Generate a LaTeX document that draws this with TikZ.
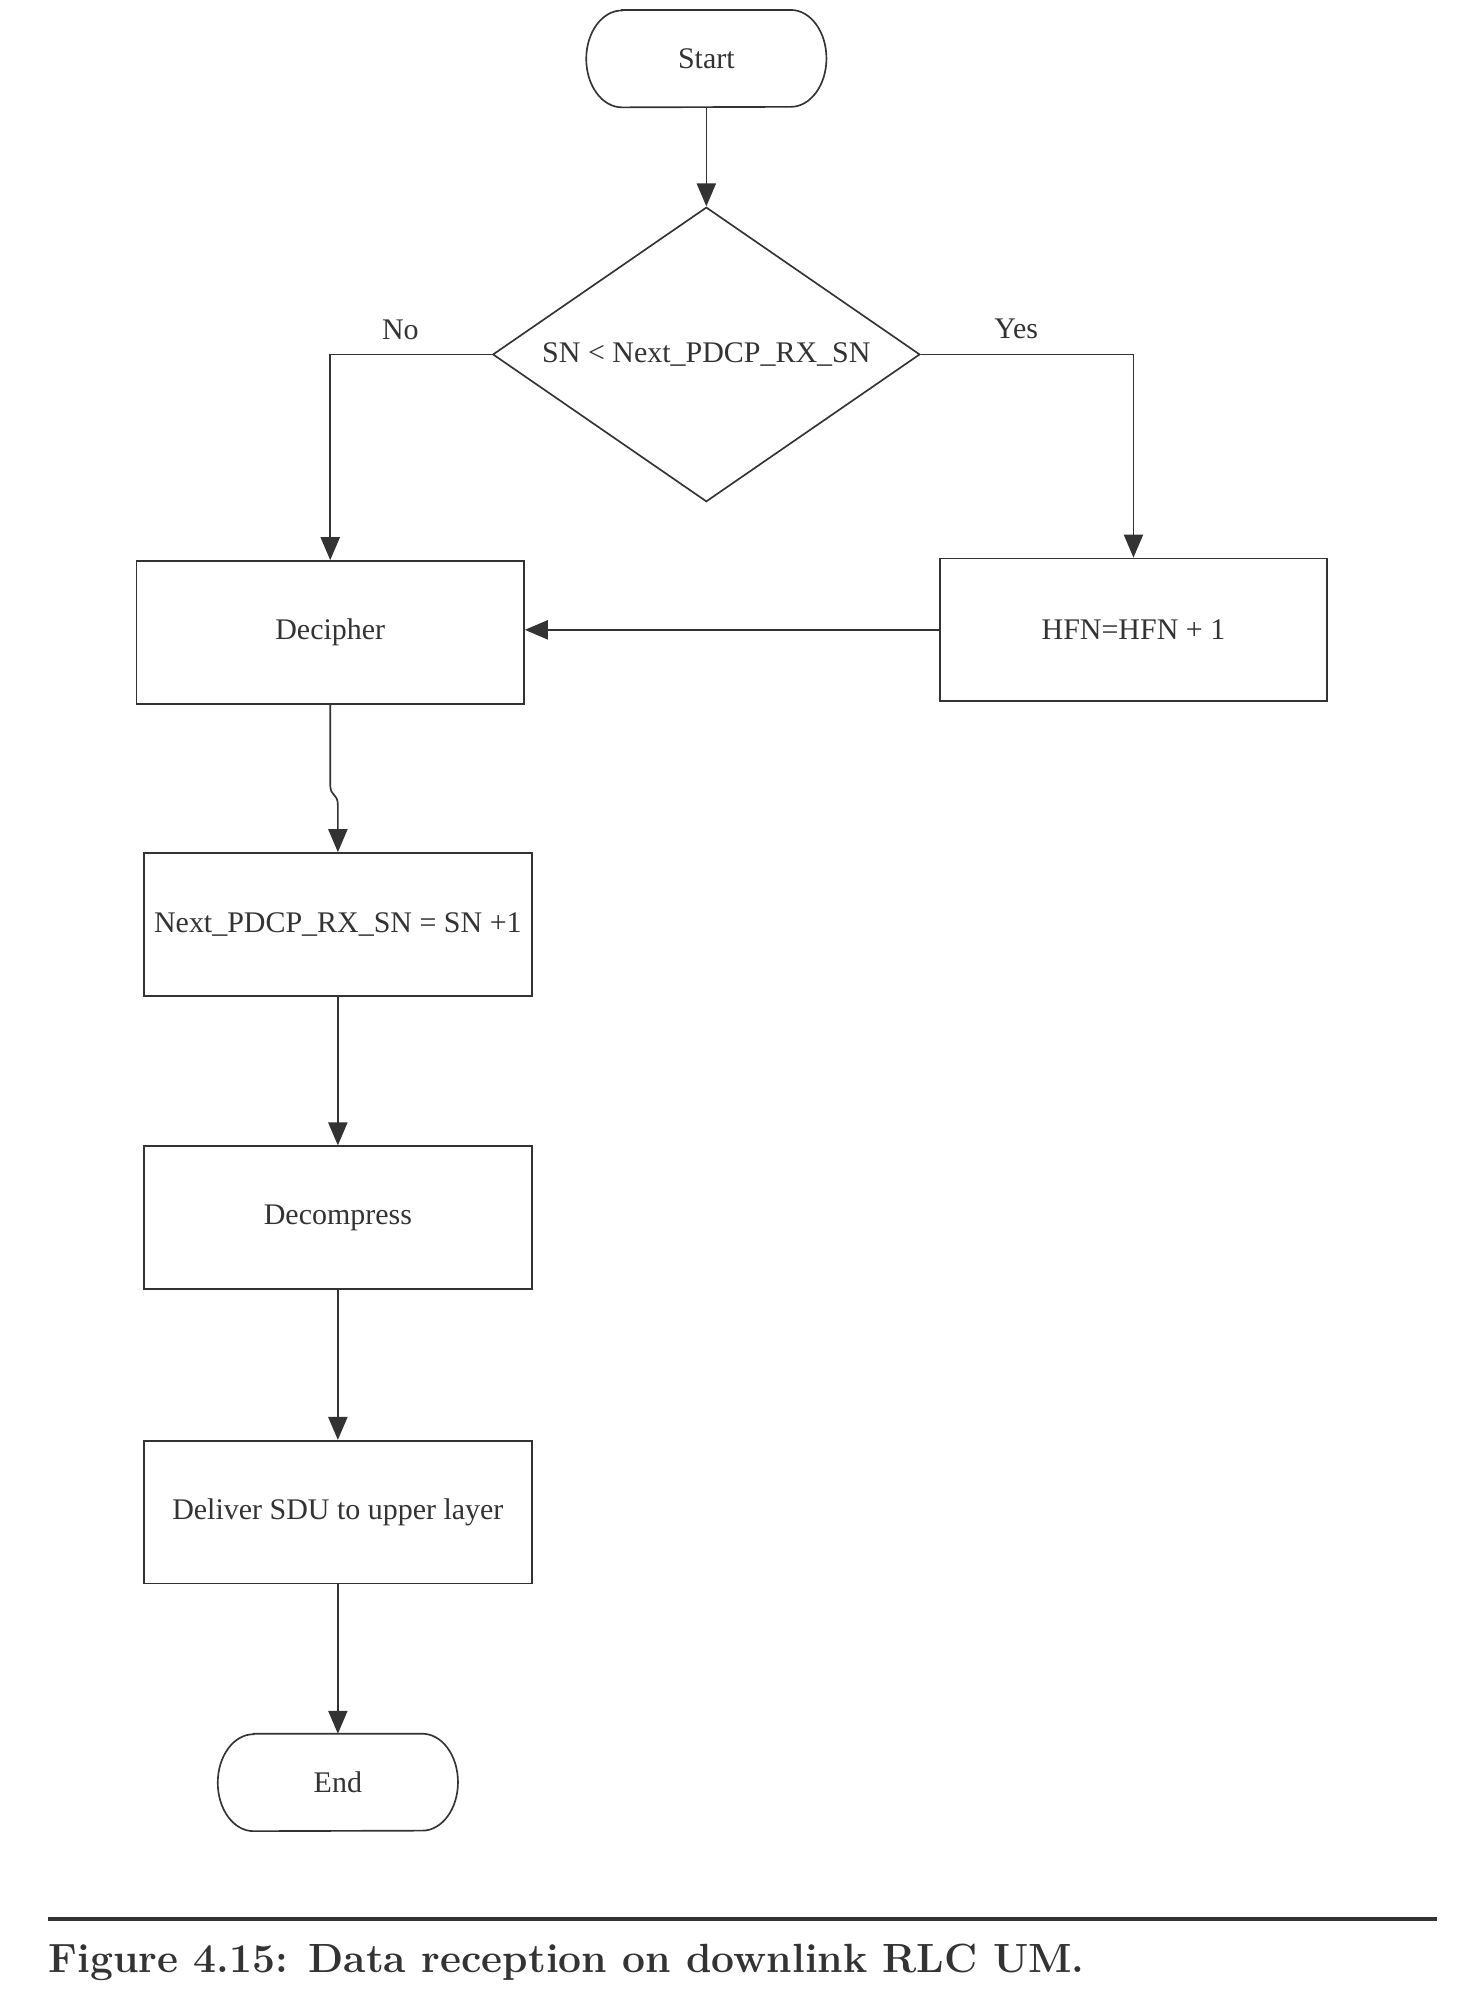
\documentclass[tikz,border=0pt]{standalone}
\usepackage{fontspec}
\setmainfont{Liberation Serif}
\newfontfamily\capfont{Latin Modern Roman}
\usetikzlibrary{shapes.geometric,arrows.meta}
\definecolor{ink}{HTML}{333333}
\begin{document}
\begin{tikzpicture}[x=1pt,y=-1pt,
  line/.style={draw=ink,line width=1.3pt},
  arr/.style={line,-{Triangle[length=18pt,width=15pt]}},
  txt/.style={text=ink,font=\fontsize{23.5}{28}\selectfont},
  box/.style={txt,draw=ink,line width=1.3pt,rectangle,minimum width=304pt,minimum height=112pt,inner sep=0pt},
  term/.style={txt,minimum width=188pt,minimum height=76pt,inner sep=0pt},
  decision/.style={txt,diamond,draw=ink,line width=1.3pt,minimum width=335pt,minimum height=231pt,inner sep=0pt,aspect=1.45},
  lbl/.style={txt}]
\useasboundingbox (0,0) rectangle (1146,1571);
% nodes
\node[term] (start) at (554,46) {Start};
\node[decision] (dec) at (554,278) {SN < Next\_PDCP\_RX\_SN};
\node[box] (decipher) at (259,496) {Decipher};
\node[box] (hfn) at (889,494) {HFN=HFN + 1};
\node[box] (nextsn) at (265,725) {Next\_PDCP\_RX\_SN = SN +1};
\node[box] (decomp) at (265,955) {Decompress};
\node[box] (deliver) at (265,1186) {Deliver SDU to upper layer};
\node[term] (end) at (265,1398) {End};
% terminator outlines
\foreach \n in {start,end}{
  \draw[line] ([xshift=28pt]\n.north west) -- ([xshift=-28pt]\n.north east)
    arc[start angle=90,end angle=-90,x radius=28pt,y radius=38pt]
    -- ([xshift=28pt]\n.south west)
    arc[start angle=270,end angle=90,x radius=28pt,y radius=38pt] -- cycle;
}
% labels
\node[lbl] (no) at (314,259) {No};
\node[lbl] (yes) at (797,258) {Yes};
% connectors
\draw[arr] (start.south) -- (dec.north);
\draw[arr] (dec.west) -| (decipher.north);
\draw[arr] (dec.east) -| (hfn.north);
\draw[arr] (hfn.west) -- (hfn.west -| decipher.east);
\draw[arr] (decipher.south) -- ++(0,62) .. controls +(0,12) and +(0,-12) .. ([yshift=36pt]nextsn.north) -- (nextsn.north);
\draw[arr] (nextsn.south) -- (decomp.north);
\draw[arr] (decomp.south) -- (deliver.north);
\draw[arr] (deliver.south) -- (end.north);
% caption
\coordinate (r1) at (38,1505);
\coordinate (r2) at (1127,1505);
\draw[draw=ink,line width=3.5pt] (r1) -- (r2);
\node[anchor=base west,inner sep=0pt,text=ink,font=\capfont\fontsize{32}{38}\selectfont\bfseries] (cap) at (38,1547) {Figure 4.15: Data reception on downlink RLC UM.};
\end{tikzpicture}
\end{document}
